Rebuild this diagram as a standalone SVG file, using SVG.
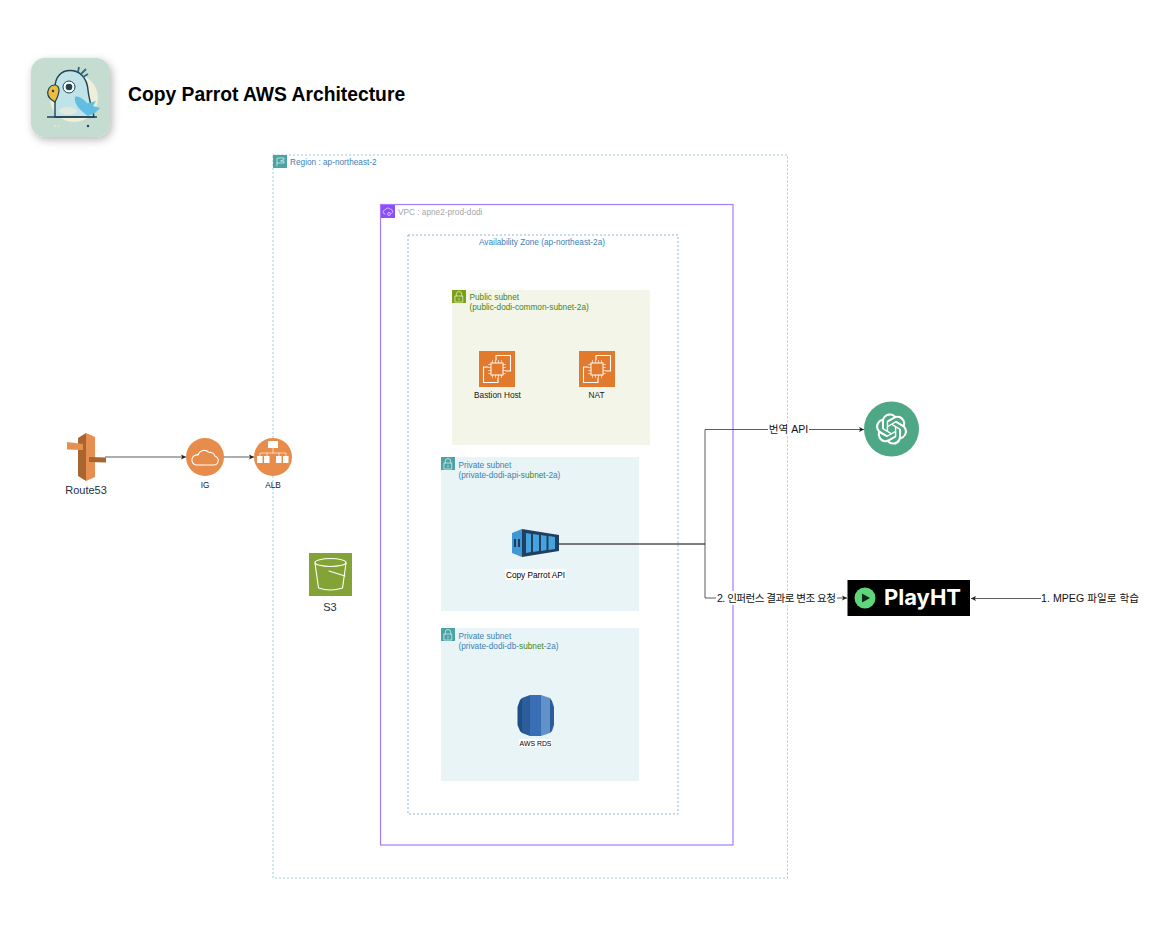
<svg xmlns="http://www.w3.org/2000/svg" width="1168" height="925" viewBox="0 0 1168 925">
<style>
text{font-family:"Liberation Sans","Noto Sans CJK KR",sans-serif}
.s{font-size:8.250px}
.m{text-anchor:middle}
.b{fill:#3d7fb5}
.g{fill:#3f8624}
.k{fill:#1a1a1a}
.c{fill:none;stroke:#333;stroke-width:.8}
.w{fill:none;stroke:#fff;stroke-width:1.1;stroke-linecap:round;stroke-linejoin:round}
.t{fill:none;stroke:#fff;stroke-width:.6;stroke-linecap:round;stroke-linejoin:round}
.lb{fill:#fff}
.l{font-size:10.600px;fill:#111}
</style>
<defs>
<marker id="a" markerUnits="userSpaceOnUse" markerWidth="6" markerHeight="6" refX="5" refY="3" orient="auto"><path d="M0 .4L5 3L0 5.600L1.200 3Z" fill="#222"/></marker>
<filter id="sh" x="-30%" y="-30%" width="160%" height="160%"><feDropShadow dx="2" dy="3" stdDeviation="4" flood-color="#000" flood-opacity=".28"/></filter>
<g id="ec2">
<rect width="36" height="36" fill="#E27A2D"/>
<path class="w" d="M17 9V4.500H31.500V20H27M9 16H4.500V31.500H19V27"/>
<path class="t" d="M13.500 9.500v2.500M16.500 9.500v2.500M19.500 9.500v2.500M22.500 9.500v2.500M13.500 24v2.500M16.500 24v2.500M19.500 24v2.500M22.500 24v2.500M9.500 13.500h2.500M9.500 16.500h2.500M9.500 19.500h2.500M9.500 22.500h2.500M24 13.500h2.500M24 16.500h2.500M24 19.500h2.500M24 22.500h2.500"/>
<rect x="12" y="12" width="12" height="12" fill="#E27A2D" stroke="#fff" stroke-width="1"/>
</g>
<g id="lock"><path class="t" d="M4.300 6V4.200a2.700 2.700 0 0 1 5.400 0V6M3.300 6h7.400v6H3.300ZM7 8.500v1.500"/></g>
</defs>

<g id="header">
<g id="logo">
<rect x="31" y="58" width="79" height="79" rx="14" fill="#C5DCD0" filter="url(#sh)"/>
<circle cx="74" cy="98" r="24" fill="#F3EFD8" opacity=".9"/>
<path d="M55 117V88C55 76 62 70.500 70 70.500C80 70.500 87 78 88 90C89 100 92 108 94 117Z" fill="#BFE3E6" stroke="#1f4257" stroke-width="1.400"/>
<path d="M78 72L79 67M81 74L86 69M83 77L88 74" stroke="#2b6c86" stroke-width="1.800" fill="none"/>
<circle cx="69" cy="87" r="6" fill="#fff" stroke="#1f4257" stroke-width="1"/>
<circle cx="69" cy="87" r="3.300" fill="#1f4257"/>
<path d="M55 85C49 85 47 91 48 95C49 99 52 100 55 102C57 98 59 95 59 90C59 87 57 85 55 85Z" fill="#EDBB3E" stroke="#1f4257" stroke-width="1.200"/>
<circle cx="53" cy="91" r="1.200" fill="#1f4257"/>
<path d="M75 97C79 95 84 100 88 104L94 113L88 116C82 112 73 104 75 97Z" fill="#62BDE3"/>
<path d="M86 104L96 101L93 106L100 108L94 114Z" fill="#62BDE3"/>
<ellipse cx="68" cy="111" rx="9" ry="4" fill="#dfe9dd"/>
<path d="M47 117H97" stroke="#1f4257" stroke-width="1.600"/>
<circle cx="88" cy="126" r="1.200" fill="#1f4257"/>
<circle cx="55" cy="126" r="1" fill="#efe9c8"/><circle cx="58.500" cy="126" r=".8" fill="#efe9c8"/>
</g>
<text x="128" y="100.500" font-size="19.300" font-weight="700" fill="#000">Copy Parrot AWS Architecture</text>
</g>

<g id="region">
<rect x="273" y="155" width="514.500" height="723" fill="none" stroke="#7fc4cc" stroke-width=".8" stroke-dasharray="2 2"/>
<rect x="273" y="155" width="14" height="13" fill="#4BA3A6"/>
<path class="t" d="M277 166V158H284V159.500L280.500 161H284V163H277"/>
<text class="s b" x="290" y="165">Region : ap-northeast-2</text>
</g>
<g id="vpc">
<rect x="380.500" y="204.500" width="352.500" height="640.500" fill="none" stroke="#A67CFF" stroke-width="1.200"/>
<rect x="381" y="205" width="14" height="13" fill="#8C4FFF"/>
<path class="t" d="M385 214a2 2 0 0 1 0-4a3 3 0 0 1 5-1a2.500 2.500 0 0 1 1.500 4.500M389 212.500a1.500 1.500 0 1 1 0 3a1.500 1.500 0 1 1 0-3"/>
<text class="s" x="398" y="215" fill="#a6a6a6">VPC : apne2-prod-dodi</text>
</g>
<g id="az">
<rect x="408" y="235" width="270" height="579" fill="none" stroke="#5b9cc9" stroke-width=".7" stroke-dasharray="2 2"/>
<text class="s b m" x="542" y="245">Availability Zone (ap-northeast-2a)</text>
</g>
<g id="public-subnet">
<rect x="452" y="290" width="198" height="155" fill="#F2F5E8"/>
<rect x="452" y="290" width="14" height="13" fill="#7AA116"/>
<use href="#lock" x="452" y="290"/>
<text class="s g" x="469.500" y="300">Public subnet</text>
<text class="s g" x="469.500" y="310">(public-dodi-common-subnet-2a)</text>
</g>
<g id="private-api-subnet">
<rect x="441" y="457" width="198" height="154" fill="#E9F4F7"/>
<rect x="441" y="457" width="14" height="13" fill="#4BA3A6"/>
<use href="#lock" x="441" y="457"/>
<text class="s b" x="458.500" y="468">Private subnet</text>
<text class="s b" x="458.500" y="478">(private-dodi-api-<tspan class="g">subnet</tspan>-2a)</text>
</g>
<g id="private-db-subnet">
<rect x="441" y="628" width="198" height="153" fill="#E9F4F7"/>
<rect x="441" y="628" width="14" height="13" fill="#4BA3A6"/>
<use href="#lock" x="441" y="628"/>
<text class="s b" x="458.500" y="639">Private subnet</text>
<text class="s b" x="458.500" y="649">(private-dodi-db-<tspan class="g">subnet</tspan>-2a)</text>
</g>

<g id="connectors">
<path class="c" d="M105 457H186" marker-end="url(#a)"/>
<path class="c" d="M223 457H254" marker-end="url(#a)"/>
<path class="c" d="M559 544H705V429.500H864" marker-end="url(#a)"/>
<path class="c" d="M559 544H705V598H847" marker-end="url(#a)"/>
<path class="c" d="M1041 598.500H971" marker-end="url(#a)"/>
<rect class="lb" x="768" y="422" width="41" height="14"/>
<text class="l m" x="788.500" y="433">번역 API</text>
<rect class="lb" x="716" y="591" width="121" height="14"/>
<text class="l" x="717" y="602" textLength="119" lengthAdjust="spacing">2. 인퍼런스 결과로 변조 요청</text>
<rect class="lb" x="1041" y="591" width="99" height="14"/>
<text class="l" x="1041" y="602" textLength="98" lengthAdjust="spacing">1. MPEG 파일로 학습</text>
</g>

<g id="route53">
<path d="M78 438L86 433V481L78 476Z" fill="#A9652F"/>
<path d="M86 433L95 437V477L86 481Z" fill="#E78F4E"/>
<path d="M67 442L83 444V450L67 449.500Z" fill="#E78F4E"/>
<path d="M89 457L106 457.500V462.500L89 462Z" fill="#A9652F"/>
<text x="86" y="494" font-size="11" text-anchor="middle" fill="#232F3E">Route53</text>
</g>
<g id="ig">
<circle cx="205" cy="457" r="19" fill="#E78C4B"/>
<path class="w" d="M196 465h18a4.500 4.500 0 0 0 1-8.800a5 5 0 0 0-6-3.700a6.500 6.500 0 0 0-11 2.500a5 5 0 0 0-2 10Z"/>
<text class="s m k" x="205" y="487.500">IG</text>
</g>
<g id="alb">
<circle cx="273" cy="457" r="19" fill="#E78C4B"/>
<rect x="268" y="441" width="10" height="7" fill="#fff"/>
<path class="t" d="M273 448V453M260 456V453H286V456M267 456V453M279 456V453"/>
<path fill="#fff" d="M257 456h5.500v7h-5.500zM264 456h5.500v7h-5.500zM276 456h5.500v7h-5.500zM283 456h5.500v7h-5.500z"/>
<text class="s m k" x="273" y="487.500">ALB</text>
</g>
<g id="s3">
<rect x="309" y="553" width="43" height="43" fill="#84A336"/>
<ellipse cx="330.500" cy="562.500" rx="15.500" ry="4" fill="none" stroke="#fff" stroke-width="1.100"/>
<path class="w" d="M315 563L318.500 588Q330.500 592 342.500 588L346 563M329 571L345 576"/>
<text x="330" y="611" font-size="11" text-anchor="middle" fill="#232F3E">S3</text>
</g>
<g id="bastion">
<use href="#ec2" x="479" y="351"/>
<text class="s m k" x="497.500" y="398">Bastion Host</text>
</g>
<g id="nat">
<use href="#ec2" x="579" y="351"/>
<text class="s m k" x="596.500" y="398">NAT</text>
</g>
<g id="api">
<path d="M512 533L522 529V557L512 553Z" fill="#3F97D6"/>
<path d="M522 529L559 535V551L522 557Z" fill="#21405F"/>
<path d="M526 533L531 534V552L526 553ZM533 534L539 535V551L533 552ZM541 535L546.500 536V550L541 551ZM548.500 536L555 537V549L548.500 550Z" fill="#45A4E0"/>
<rect x="514" y="539" width="2" height="8" fill="#1f3d5a"/><rect x="518" y="539" width="2" height="8" fill="#1f3d5a"/>
<rect class="lb" x="505" y="569" width="61" height="11"/>
<text class="s m" x="535.500" y="578" fill="#000">Copy Parrot API</text>
</g>
<g id="rds">
<path d="M522 698L520 700L517.500 707V725L520 731L522 733Z" fill="#1F4E86"/>
<path d="M522 698L530 695V736L522 733Z" fill="#2C5C99"/>
<path d="M530 695H541V736H530Z" fill="#3B6FB5"/>
<path d="M541 695L550 698V733L541 736Z" fill="#6391C9"/>
<path d="M550 698L552 701L554 707V725L552 731L550 733Z" fill="#2C5C99"/>
<rect class="lb" x="519" y="739" width="33" height="8"/>
<text class="m" x="535.500" y="746" font-size="6.900" fill="#000">AWS RDS</text>
</g>
<g id="openai">
<circle cx="891.500" cy="429" r="27.500" fill="#4FA885"/>
<path transform="translate(875.900 413.400) scale(1.300)" fill="#fff" d="M22.2819 9.8211a5.9847 5.9847 0 0 0-.5157-4.9108 6.0462 6.0462 0 0 0-6.5098-2.9A6.0651 6.0651 0 0 0 4.9807 4.1818a5.9847 5.9847 0 0 0-3.9977 2.9 6.0462 6.0462 0 0 0 .7427 7.0966 5.98 5.98 0 0 0 .511 4.9107 6.051 6.051 0 0 0 6.5146 2.9001A5.9847 5.9847 0 0 0 13.2599 24a6.0557 6.0557 0 0 0 5.7718-4.2058 5.9894 5.9894 0 0 0 3.9977-2.9001 6.0557 6.0557 0 0 0-.7475-7.0729zm-9.022 12.6081a4.4755 4.4755 0 0 1-2.8764-1.0408l.1419-.0804 4.7783-2.7582a.7948.7948 0 0 0 .3927-.6813v-6.7369l2.02 1.1686a.071.071 0 0 1 .038.052v5.5826a4.504 4.504 0 0 1-4.4945 4.4944zm-9.6607-4.1254a4.4708 4.4708 0 0 1-.5346-3.0137l.142.0852 4.783 2.7582a.7712.7712 0 0 0 .7806 0l5.8428-3.3685v2.3324a.0804.0804 0 0 1-.0332.0615L9.74 19.9502a4.4992 4.4992 0 0 1-6.1408-1.6464zM2.3408 7.8956a4.485 4.485 0 0 1 2.3655-1.9728V11.6a.7664.7664 0 0 0 .3879.6765l5.8144 3.3543-2.0201 1.1685a.0757.0757 0 0 1-.071 0l-4.8303-2.7865A4.504 4.504 0 0 1 2.3408 7.872zm16.5963 3.8558L13.1038 8.364 15.1192 7.2a.0757.0757 0 0 1 .071 0l4.8303 2.7913a4.4944 4.4944 0 0 1-.6765 8.1042v-5.6772a.79.79 0 0 0-.407-.667zm2.0107-3.0231l-.142-.0852-4.7735-2.7818a.7759.7759 0 0 0-.7854 0L9.409 9.2297V6.8974a.0662.0662 0 0 1 .0284-.0615l4.8303-2.7866a4.4992 4.4992 0 0 1 6.6802 4.66zM8.3065 12.863l-2.02-1.1638a.0804.0804 0 0 1-.038-.0567V6.0742a4.4992 4.4992 0 0 1 7.3757-3.4537l-.142.0805L8.704 5.459a.7948.7948 0 0 0-.3927.6813zm1.0976-2.3654l2.602-1.4998 2.6069 1.4998v2.9994l-2.5974 1.4997-2.6067-1.4997Z"/>
</g>
<g id="playht">
<rect x="847.500" y="580" width="122.500" height="36" fill="#000"/>
<circle cx="865" cy="598" r="10.500" fill="#5FD67B"/>
<path d="M862 593.500L870 598L862 602.500Z" fill="#0d2b18"/>
<text x="884" y="605" font-size="22" font-weight="700" fill="#fff" style="font-family:Inter,'Liberation Sans',sans-serif">PlayHT</text>
</g>
</svg>
